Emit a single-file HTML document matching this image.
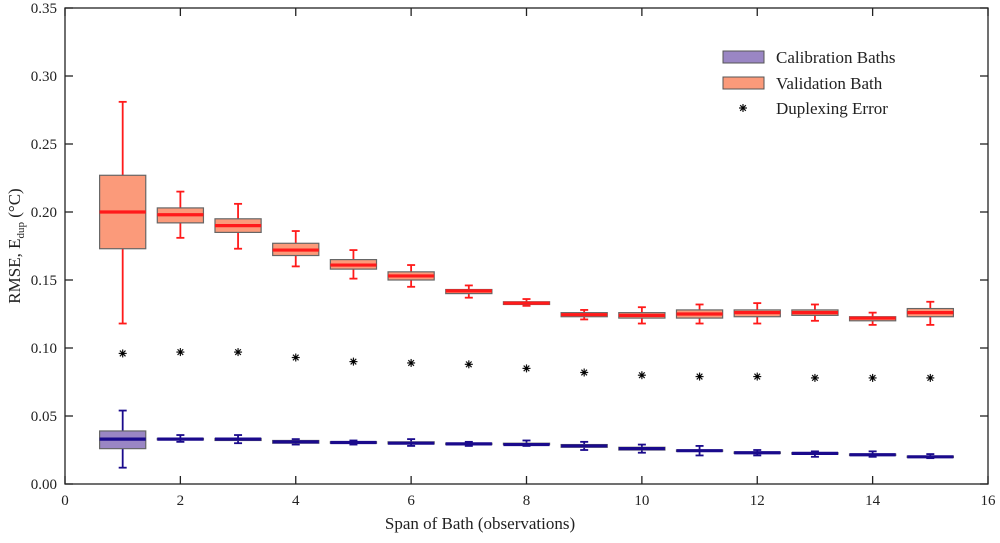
<!DOCTYPE html>
<html><head><meta charset="utf-8"><style>
html,body{margin:0;padding:0;background:#fff;}
svg text{font-family:"Liberation Serif",serif;fill:#222;}
</style></head><body>
<svg id="chart" width="1000" height="538" viewBox="0 0 1000 538">
<g id="grid"></g><g id="marks"></g>
<text x="480" y="529" font-size="17" text-anchor="middle">Span of Bath (observations)</text>
<text transform="translate(20,246) rotate(-90)" font-size="17" text-anchor="middle">RMSE,  E<tspan font-size="11" dy="4">dup</tspan><tspan dy="-4"> (°C)</tspan></text>
<g>
<rect x="723" y="51" width="41" height="12" fill="#9a86c4" stroke="#555"/>
<text x="776" y="63" font-size="17">Calibration Baths</text>
<rect x="723" y="77" width="41" height="12" fill="#fb9a7a" stroke="#555"/>
<text x="776" y="89" font-size="17">Validation Bath</text>
<g id="legstar"></g>
<text x="776" y="114" font-size="17">Duplexing Error</text>
</g>
</svg>
<script>
const spans=[1,2,3,4,5,6,7,8,9,10,11,12,13,14,15];
const valMin=[.118,.181,.173,.160,.151,.145,.137,.131,.121,.118,.118,.118,.120,.117,.117];
const valQ1=[.173,.192,.185,.168,.158,.150,.140,.132,.123,.122,.122,.123,.124,.120,.123];
const valMed=[.200,.198,.190,.172,.161,.153,.142,.133,.1245,.124,.125,.126,.126,.122,.126];
const valQ3=[.227,.203,.195,.177,.165,.156,.143,.134,.126,.126,.128,.128,.128,.123,.129];
const valMax=[.281,.215,.206,.186,.172,.161,.146,.136,.128,.130,.132,.133,.132,.126,.134];
const calMin=[.012,.031,.030,.029,.029,.028,.028,.028,.025,.023,.021,.021,.020,.020,.019];
const calQ1=[.026,.0325,.032,.030,.030,.0295,.029,.029,.027,.025,.024,.0225,.022,.021,.0195];
const calMed=[.033,.033,.033,.031,.0305,.030,.0295,.029,.028,.026,.0245,.023,.0225,.0215,.020];
const calQ3=[.039,.0335,.0335,.032,.031,.031,.030,.030,.029,.027,.025,.0235,.023,.022,.0205];
const calMax=[.054,.036,.036,.033,.032,.033,.031,.032,.031,.029,.028,.025,.024,.024,.022];
const dupErr=[.096,.097,.097,.093,.090,.089,.088,.085,.082,.080,.079,.079,.078,.078,.078];
const xTicks=[0,2,4,6,8,10,12,14,16];
const yTicks=[0,.05,.10,.15,.20,.25,.30,.35];
const L=65,R=988,T=8,B=484;
const xs=v=>L+(v/16)*(R-L);
const ys=v=>B-(v/0.35)*(B-T);
const NS="http://www.w3.org/2000/svg";
function mk(tag,attrs,parent){const e=document.createElementNS(NS,tag);for(const k in attrs)e.setAttribute(k,attrs[k]);parent.appendChild(e);return e;}
function star(cx,cy,parent){
 const r=4;
 for(let a=0;a<4;a++){const t=a*Math.PI/4;mk('line',{x1:cx-r*Math.cos(t),y1:cy-r*Math.sin(t),x2:cx+r*Math.cos(t),y2:cy+r*Math.sin(t),stroke:'#111','stroke-width':1.2},parent);}
 mk('circle',{cx:cx,cy:cy,r:1.5,fill:'#000'},parent);
}
star(743,108,document.getElementById('legstar'));
const g=document.getElementById('grid'),m=document.getElementById('marks');
const frame=mk('rect',{x:L,y:T,width:R-L,height:B-T,fill:'none',stroke:'#222','stroke-width':1.3},g);


xTicks.forEach(t=>{
 const x=xs(t);
 const l=mk('line',{x1:x,x2:x,y1:B,y2:B-8,stroke:'#222','stroke-width':1.3},g);
 
 
 const l2=mk('line',{x1:x,x2:x,y1:T,y2:T+8,stroke:'#222','stroke-width':1.3},g);
 
 
 const tx=mk('text',{x:x,y:B+21,'font-size':15,'text-anchor':'middle'},g);tx.textContent=t;
 
 
});
yTicks.forEach(t=>{
 const y=ys(t);
 const l=mk('line',{x1:L,x2:L+8,y1:y,y2:y,stroke:'#222','stroke-width':1.3},g);
 
 
 const l2=mk('line',{x1:R,x2:R-8,y1:y,y2:y,stroke:'#222','stroke-width':1.3},g);
 
 
 const tx=mk('text',{x:L-8,y:y+5,'font-size':15,'text-anchor':'end'},g);tx.textContent=t.toFixed(2);
 
 
});
const hw=0.4;
function box(i,mn,q1,md,q3,mx,fill,line,name){
 const c=xs(spans[i]),x0=xs(spans[i]-hw),x1=xs(spans[i]+hw);
 const grp=mk('g',{},m);
 
 
 mk('line',{x1:c,x2:c,y1:ys(mn),y2:ys(mx),stroke:line,'stroke-width':1.8},grp);
 [mn,mx].forEach(v=>mk('line',{x1:c-4,x2:c+4,y1:ys(v),y2:ys(v),stroke:line,'stroke-width':1.8},grp));
 mk('rect',{x:x0,y:ys(q3),width:x1-x0,height:Math.max(ys(q1)-ys(q3),1),fill:fill,stroke:'#666','stroke-width':1.2},grp);
 mk('line',{x1:x0,x2:x1,y1:ys(md),y2:ys(md),stroke:line,'stroke-width':3.2},grp);
}
spans.forEach((s,i)=>{
 box(i,valMin[i],valQ1[i],valMed[i],valQ3[i],valMax[i],'#fb9a7a','#ff1a1a','validation');
 box(i,calMin[i],calQ1[i],calMed[i],calQ3[i],calMax[i],'#9a86c4','#1a0a8c','calibration');
 const sg=mk('g',{},m);
 
 
 star(xs(s),ys(dupErr[i]),sg);
});
</script>
</body></html>
